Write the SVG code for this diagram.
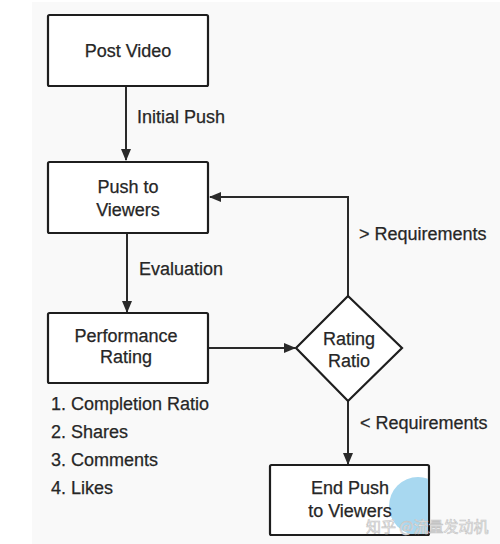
<svg xmlns="http://www.w3.org/2000/svg" width="500" height="544" viewBox="0 0 500 544">
<defs>
<style>
.box{fill:#fff;stroke:#1e1e1e;stroke-width:2.2}
.t{font-family:"Liberation Sans",Arial,sans-serif;font-size:18px;fill:#262626;stroke:#262626;stroke-width:0.25}
.c{text-anchor:middle}
.ln{fill:none;stroke:#2a2a2a;stroke-width:2}
.wm{font-family:"Noto Sans CJK SC","Liberation Sans",sans-serif;font-size:15px;fill:#f0f0f0;stroke:#c4c4c4;stroke-width:0.6}
</style>
<marker id="ah" markerWidth="12" markerHeight="10" refX="11" refY="5" orient="auto" markerUnits="userSpaceOnUse">
<path d="M0,0 L12,5 L0,10 Z" fill="#2a2a2a"/>
</marker>
<clipPath id="endclip"><rect x="271" y="466" width="157" height="68"/></clipPath>
</defs>
<rect x="0" y="0" width="500" height="544" fill="#fff"/>
<rect x="32" y="2" width="468" height="542" fill="#f9f9f9"/>
<g id="connectors">
<line class="ln" x1="126" y1="87" x2="126" y2="160" marker-end="url(#ah)"/>
<line class="ln" x1="127" y1="234" x2="127" y2="312" marker-end="url(#ah)"/>
<line class="ln" x1="209" y1="348" x2="295" y2="348" marker-end="url(#ah)"/>
<polyline class="ln" points="348,296 348,197 210,197" marker-end="url(#ah)"/>
<line class="ln" x1="348" y1="401" x2="348" y2="464" marker-end="url(#ah)"/>
<text class="t" x="137" y="123">Initial Push</text>
<text class="t" x="139" y="275">Evaluation</text>
<text class="t" x="359" y="240">&gt; Requirements</text>
<text class="t" x="360" y="429">&lt; Requirements</text>
</g>
<g id="post-video">
<rect class="box" x="48" y="15" width="160" height="71" rx="1.5"/>
<text class="t c" x="128" y="57">Post Video</text>
</g>
<g id="push-to-viewers">
<rect class="box" x="48" y="162" width="160" height="71" rx="1.5"/>
<text class="t c" x="128" y="193">Push to</text>
<text class="t c" x="128" y="216">Viewers</text>
</g>
<g id="performance-rating">
<rect class="box" x="48" y="313" width="160" height="70" rx="1.5"/>
<text class="t c" x="126" y="342">Performance</text>
<text class="t c" x="126" y="363">Rating</text>
</g>
<g id="metrics">
<text class="t" x="51" y="410">1. Completion Ratio</text>
<text class="t" x="51" y="438">2. Shares</text>
<text class="t" x="51" y="466">3. Comments</text>
<text class="t" x="51" y="494">4. Likes</text>
</g>
<g id="rating-ratio">
<polygon class="box" points="348,296 402,348 348,401 296,348"/>
<text class="t c" x="349" y="345">Rating</text>
<text class="t c" x="349" y="367">Ratio</text>
</g>
<g id="end-push">
<rect class="box" x="270" y="465" width="159" height="70" rx="1.5"/>
<circle cx="418" cy="506" r="29" fill="#a8d8f0" clip-path="url(#endclip)"/>
<text class="t c" x="350" y="494">End Push</text>
<text class="t c" x="350" y="517">to Viewers</text>
</g>
<text class="wm" x="366" y="532">知乎 @流量发动机</text>
</svg>
